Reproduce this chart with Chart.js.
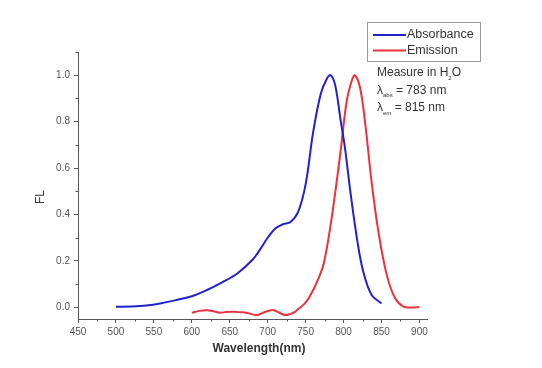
<!DOCTYPE html>
<html>
<head>
<meta charset="utf-8">
<script src="https://cdn.jsdelivr.net/npm/chart.js@4"></script>
<style>
  body { margin: 0; background: #fff; }
  #wrap { width: 542px; height: 368px; }
</style>
</head>
<body>
<div id="wrap"><canvas id="specChart"></canvas></div>
<script>
// absorbance spectrum (wavelength nm, normalized)
const absX = [500, 520, 540, 560, 580, 600, 620, 640, 660, 680, 690, 700, 710, 720, 730, 740, 750, 760, 770, 778, 783, 789, 796, 802, 809, 818, 826, 837, 850];
const absY = [0.003, 0.004, 0.008, 0.018, 0.032, 0.048, 0.075, 0.108, 0.146, 0.205, 0.25, 0.30, 0.34, 0.358, 0.368, 0.41, 0.53, 0.756, 0.92, 0.985, 1.0, 0.957, 0.81, 0.684, 0.498, 0.29, 0.153, 0.053, 0.017];

// emission spectrum
const emX = [600, 610, 620, 630, 637, 645, 655, 665, 672, 680, 686, 692, 697, 703, 708, 715, 723, 730, 736, 743, 749, 756, 765, 774, 785, 796, 804, 811, 815, 822, 829, 837, 846, 857, 868, 879, 890, 900];
const emY = [-0.023, -0.015, -0.012, -0.018, -0.023, -0.02, -0.019, -0.021, -0.023, -0.03, -0.033, -0.026, -0.019, -0.013, -0.012, -0.022, -0.033, -0.028, -0.019, 0.0, 0.017, 0.05, 0.11, 0.19, 0.4, 0.67, 0.885, 0.978, 1.0, 0.943, 0.78, 0.54, 0.325, 0.139, 0.039, 0.003, 0.0, 0.002];

const xTicks = [450, 475, 500, 525, 550, 575, 600, 625, 650, 675, 700, 725, 750, 775, 800, 825, 850, 875, 900];
const yTicks = [0, 0.1, 0.2, 0.3, 0.4, 0.5, 0.6, 0.7, 0.8, 0.9, 1.0, 1.1];

const seriesNames = ['Absorbance', 'Emission'];
const noteLines = [['Measure in H', '2', 'O'], ['\u03bb', 'abs', ' = 783 nm'], ['\u03bb', 'em', ' = 815 nm']];

function toPoints(xs, ys) {
    return xs.map((x, i) => ({ x: x, y: ys[i] }));
}

const axisColor = '#555';
const font = 'Liberation Sans, Arial, sans-serif';

// minor ticks, titles, legend and the note text
const extras = {
    id: 'extras',
    afterDraw(chart) {
        const ctx = chart.ctx;
        const xs = chart.scales.x, ys = chart.scales.y;
        ctx.save();
        ctx.strokeStyle = axisColor;
        ctx.lineWidth = 1;
        ctx.beginPath();
        xTicks.forEach((v, i) => {
            if (i % 2 === 1) {
                const px = Math.round(xs.getPixelForValue(v)) + 0.5;
                ctx.moveTo(px, ys.bottom);
                ctx.lineTo(px, ys.bottom + 2.5);
            }
        });
        yTicks.forEach((v, i) => {
            if (i % 2 === 1) {
                const py = Math.round(ys.getPixelForValue(v)) + 0.5;
                ctx.moveTo(xs.left, py);
                ctx.lineTo(xs.left - 2.5, py);
            }
        });
        ctx.stroke();

        // axis titles
        ctx.fillStyle = '#333';
        ctx.textAlign = 'center';
        ctx.textBaseline = 'middle';
        ctx.font = 'bold 12px ' + font;
        ctx.fillText('Wavelength(nm)', 259, 349);
        ctx.save();
        ctx.translate(41, 197);
        ctx.rotate(-Math.PI / 2);
        ctx.font = '12px ' + font;
        ctx.fillText('FL', 0, 0);
        ctx.restore();

        // legend box
        ctx.strokeStyle = '#999';
        ctx.strokeRect(367.5, 22.5, 113, 39);
        ctx.font = '12.5px ' + font;
        ctx.textAlign = 'left';
        chart.data.datasets.forEach((ds, i) => {
            const y = 35 + i * 15.5;
            ctx.strokeStyle = ds.borderColor;
            ctx.lineWidth = 2;
            ctx.beginPath();
            ctx.moveTo(373, y);
            ctx.lineTo(406, y);
            ctx.stroke();
            ctx.fillStyle = '#333';
            ctx.fillText(ds.label, 407, y);
        });

        // note
        noteLines.forEach((parts, i) => {
            const y = 73 + i * 17.5;
            let x = 377;
            ctx.font = '12px ' + font;
            ctx.fillText(parts[0], x, y);
            x += ctx.measureText(parts[0]).width;
            ctx.font = '6px ' + font;
            ctx.fillText(parts[1], x, y + 5);
            x += ctx.measureText(parts[1]).width;
            ctx.font = '12px ' + font;
            ctx.fillText(parts[2], x, y);
        });
        ctx.restore();
    }
};

new Chart(document.getElementById('specChart'), {
    type: 'line',
    data: {
        datasets: [{
            label: seriesNames[0],
            data: toPoints(absX, absY),
            borderColor: '#2222cc',
            borderWidth: 2,
            pointRadius: 0,
            tension: 0.35
        }, {
            label: seriesNames[1],
            data: toPoints(emX, emY),
            borderColor: '#e8333d',
            borderWidth: 2,
            pointRadius: 0,
            tension: 0.35
        }]
    },
    options: {
        responsive: true,
        maintainAspectRatio: false,
        animation: false,
        layout: { padding: { left: 0, right: 115, top: 52, bottom: 0 } },
        plugins: {
            legend: { display: false },
            tooltip: { enabled: false }
        },
        scales: {
            x: {
                type: 'linear',
                min: 450,
                max: 910,
                afterBuildTicks: (s) => { s.ticks = xTicks.map(v => ({ value: v })); },
                afterFit: (s) => { s.height = 49; },
                border: { color: axisColor, width: 1 },
                grid: {
                    drawOnChartArea: false,
                    tickLength: 4,
                    tickColor: (c) => c.index % 2 === 0 ? axisColor : 'rgba(0,0,0,0)'
                },
                ticks: {
                    autoSkip: false,
                    maxRotation: 0,
                    padding: 3,
                    color: '#555',
                    font: { family: font, size: 10 },
                    callback: (v, i) => i % 2 === 0 ? String(v) : ''
                }
            },
            y: {
                min: -0.05,
                max: 1.1,
                afterBuildTicks: (s) => { s.ticks = yTicks.map(v => ({ value: v })); },
                afterFit: (s) => { s.width = 78; },
                border: { color: axisColor, width: 1 },
                grid: {
                    drawOnChartArea: false,
                    tickLength: 4,
                    tickColor: (c) => c.index % 2 === 0 ? axisColor : 'rgba(0,0,0,0)'
                },
                ticks: {
                    autoSkip: false,
                    padding: 4,
                    color: '#555',
                    font: { family: font, size: 10 },
                    callback: (v, i) => i % 2 === 0 ? v.toFixed(1) : ''
                }
            }
        }
    },
    plugins: [extras]
});
</script>
</body>
</html>
